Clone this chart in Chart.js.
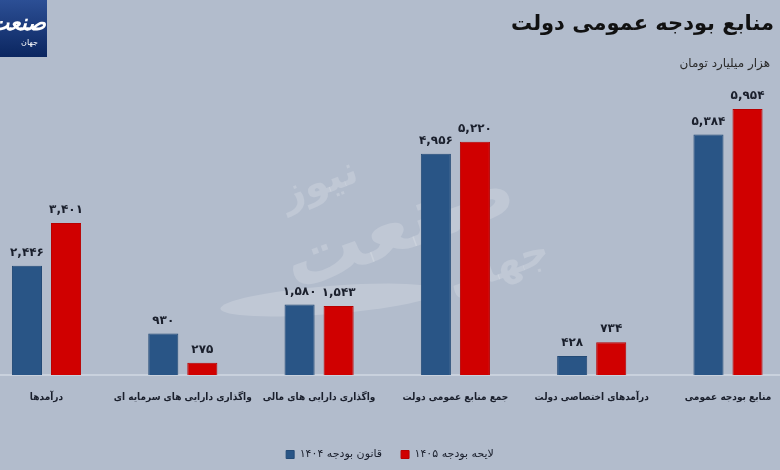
<!DOCTYPE html>
<html lang="fa">
<head>
<meta charset="utf-8">
<script src="https://cdn.jsdelivr.net/npm/chart.js@4.4.1/dist/chart.umd.min.js"></script>
<style>
html,body{margin:0;padding:0;background:#b2bccc;}
#wrap{width:780px;height:470px;position:relative;}
</style>
</head>
<body>
<div id="wrap"><canvas id="c"></canvas></div>
<script>
const categories = ['درآمدها','واگذاری دارایی های سرمایه ای','واگذاری دارایی های مالی','جمع منابع عمومی دولت','درآمدهای اختصاصی دولت','منابع بودجه عمومی'];
const seriesNames = ['قانون بودجه ۱۴۰۴','لایحه بودجه ۱۴۰۵'];
const budgetLaw1404 = [2446, 930, 1580, 4956, 428, 5384];
const budgetBill1405 = [3401, 275, 1543, 5220, 734, 5954];
const titleText = 'منابع بودجه عمومی دولت';
const unitText = 'هزار میلیارد تومان';
const logoMain = 'صنعت';
const logoSub = 'جهان';

const FONT = '"DejaVu Sans", sans-serif';
const FONT_COND = '"DejaVu Sans Condensed", "DejaVu Sans", sans-serif';
function toFa(n){
  return n.toLocaleString('en-US').replace(/\d/g, d => '۰۱۲۳۴۵۶۷۸۹'[d]);
}

const decorPlugin = {
  id: 'decor',
  beforeDraw(chart){
    const ctx = chart.ctx;
    ctx.save();
    ctx.fillStyle = '#b2bccc';
    ctx.fillRect(0,0,chart.width,chart.height);
    // watermark
    ctx.globalAlpha = 0.18;
    ctx.fillStyle = '#ffffff';
    ctx.beginPath();
    ctx.ellipse(330, 300, 110, 14, -0.08, 0, Math.PI*2);
    ctx.fill();
    ctx.translate(400, 230);
    ctx.rotate(-0.35);
    ctx.font = 'bold 80px ' + FONT;
    ctx.textAlign = 'center';
    ctx.textBaseline = 'middle';
    ctx.direction = 'rtl';
    ctx.fillText(logoMain, 0, 0);
    ctx.font = 'bold 40px ' + FONT;
    ctx.fillText('نیوز', -60, -70);
    ctx.fillText(logoSub, 80, 70);
    ctx.restore();

    // logo box
    ctx.save();
    const g = ctx.createLinearGradient(0,0,0,57);
    g.addColorStop(0,'#2c4f95');
    g.addColorStop(1,'#0b2660');
    ctx.fillStyle = g;
    ctx.fillRect(0,0,47,57);
    ctx.fillStyle = '#ffffff';
    ctx.direction = 'rtl';
    ctx.textAlign = 'right';
    ctx.textBaseline = 'middle';
    ctx.font = 'bold italic 22px ' + FONT;
    ctx.fillText(logoMain, 46, 24);
    ctx.font = '8px ' + FONT;
    ctx.fillText(logoSub, 38, 43);
    ctx.restore();

    // title & subtitle
    ctx.save();
    ctx.direction = 'rtl';
    ctx.textAlign = 'right';
    ctx.textBaseline = 'middle';
    ctx.fillStyle = '#111111';
    ctx.font = 'bold 21px ' + FONT;
    ctx.fillText(titleText, 774, 25);
    ctx.fillStyle = '#2a2a2a';
    ctx.font = '12px ' + FONT;
    ctx.fillText(unitText, 770, 64);
    ctx.restore();
  },
  afterDatasetsDraw(chart){
    const ctx = chart.ctx;
    ctx.save();
    ctx.font = 'bold 12px ' + FONT;
    ctx.fillStyle = '#1a1f2c';
    ctx.textAlign = 'center';
    ctx.textBaseline = 'middle';
    chart.data.datasets.forEach((ds, i) => {
      const meta = chart.getDatasetMeta(i);
      meta.data.forEach((bar, j) => {
        ctx.fillText(toFa(ds.data[j]), bar.x, bar.y - 13);
      });
    });
    ctx.restore();
  }
};

new Chart(document.getElementById('c'), {
  type: 'bar',
  data: {
    labels: categories,
    datasets: [
      { label: seriesNames[0], data: budgetLaw1404, backgroundColor: '#295586', borderColor: '#234a76', borderWidth: 1 },
      { label: seriesNames[1], data: budgetBill1405, backgroundColor: '#d00000', borderColor: '#b80000', borderWidth: 1 }
    ]
  },
  options: {
    responsive: true,
    maintainAspectRatio: false,
    animation: false,
    layout: { padding: { top: 107, left: 0, right: 0, bottom: 0 } },
    datasets: { bar: { categoryPercentage: 0.573, barPercentage: 0.77 } },
    scales: {
      x: {
        grid: { display: false },
        border: { display: true, color: '#c9d1dd', width: 2 },
        ticks: { color: '#1a1f2c', font: { family: FONT_COND, size: 10, weight: 'bold' }, padding: 8, maxRotation: 0, minRotation: 0, autoSkip: false },
        afterBuildTicks: (scale) => {
          // shift the category band so the groups sit where the reference places them
          const step = 136.3;
          scale._valueRange = 780 / step;
          scale._startValue = -46.5 / step;
        },
        afterFit: (scale) => { scale.height = 55; }
      },
      y: {
        display: false,
        min: 0,
        max: 6000
      }
    },
    plugins: {
      legend: {
        position: 'bottom',
        labels: { boxWidth: 8, boxHeight: 8, color: '#1a1f2c', font: { family: FONT, size: 11 }, padding: 19 }
      },
      tooltip: { enabled: false },
      title: { display: false }
    }
  },
  plugins: [decorPlugin]
});
</script>
</body>
</html>
